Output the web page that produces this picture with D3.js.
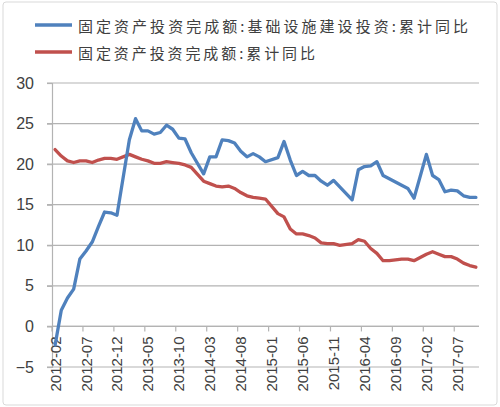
<!DOCTYPE html>
<head>
  <meta charset="utf-8">
  <script src="https://d3js.org/d3.v7.min.js"></script>
  <style>
    body { margin: 0; background: #fff; }
    svg { display: block; }
  </style>
</head>

<body>
  <svg width="500" height="407"></svg>
  <script>
    // categories (January has no separate release, kept as empty slots)
    var months = [
      "2012-02","2012-03","2012-04","2012-05","2012-06","2012-07","2012-08","2012-09","2012-10","2012-11","2012-12",
      "2013-01","2013-02","2013-03","2013-04","2013-05","2013-06","2013-07","2013-08","2013-09","2013-10","2013-11","2013-12",
      "2014-01","2014-02","2014-03","2014-04","2014-05","2014-06","2014-07","2014-08","2014-09","2014-10","2014-11","2014-12",
      "2015-01","2015-02","2015-03","2015-04","2015-05","2015-06","2015-07","2015-08","2015-09","2015-10","2015-11","2015-12",
      "2016-01","2016-02","2016-03","2016-04","2016-05","2016-06","2016-07","2016-08","2016-09","2016-10","2016-11","2016-12",
      "2017-01","2017-02","2017-03","2017-04","2017-05","2017-06","2017-07","2017-08","2017-09","2017-10"
    ];

    // series values
    var infraValues = [
      -2.3, 2.0, 3.5, 4.6, 8.3, 9.3, 10.4, 12.3, 14.1, 14.0, 13.7,
      null, 23.0, 25.6, 24.1, 24.1, 23.7, 23.9, 24.8, 24.3, 23.2, 23.1, 21.4,
      null, 18.8, 20.9, 20.9, 23.0, 22.9, 22.6, 21.6, 20.9, 21.3, 20.9, 20.3,
      null, 20.8, 22.8, 20.5, 18.6, 19.1, 18.6, 18.6, 17.9, 17.4, 18.0, 17.2,
      null, 15.6, 19.3, 19.7, 19.8, 20.3, 18.6, 18.2, 17.8, 17.4, 17.0, 15.8,
      null, 21.2, 18.6, 18.1, 16.6, 16.8, 16.7, 16.1, 15.9, 15.9
    ];
    var totalValues = [
      21.8, 21.0, 20.4, 20.2, 20.4, 20.4, 20.2, 20.5, 20.7, 20.7, 20.6,
      null, 21.2, 20.9, 20.6, 20.4, 20.1, 20.1, 20.3, 20.2, 20.1, 19.9, 19.6,
      null, 17.9, 17.6, 17.3, 17.2, 17.3, 17.0, 16.5, 16.1, 15.9, 15.8, 15.7,
      null, 13.9, 13.5, 12.0, 11.4, 11.4, 11.2, 10.9, 10.3, 10.2, 10.2, 10.0,
      null, 10.2, 10.7, 10.5, 9.6, 9.0, 8.1, 8.1, 8.2, 8.3, 8.3, 8.1,
      null, 8.9, 9.2, 8.9, 8.6, 8.6, 8.3, 7.8, 7.5, 7.3
    ];

    var seriesNames = ["固定资产投资完成额:基础设施建设投资:累计同比", "固定资产投资完成额:累计同比"];
    var seriesColors = ["#4f81bd", "#c0504d"];

    // tick labels
    var yTicks = [-5, 0, 5, 10, 15, 20, 25, 30];
    var xLabelEvery = 5;

    var svg = d3.select("svg");
    var plot = { left: 52, right: 479, top: 83, bottom: 367 };

    // frame
    svg.append("rect")
      .attr("x", 3).attr("y", 2)
      .attr("width", 494).attr("height", 403)
      .attr("rx", 3)
      .attr("fill", "#fff")
      .attr("stroke", "#d9d9d9");

    // scales
    var x = d3.scaleBand()
      .domain(months)
      .range([plot.left, plot.right])
      .padding(0);
    var y = d3.scaleLinear()
      .domain([-5, 30])
      .range([plot.bottom, plot.top]);
    var cx = function(m) { return x(m) + x.bandwidth() / 2; };

    // grid
    svg.append("g").selectAll("line")
      .data(yTicks)
      .enter().append("line")
      .attr("x1", plot.left - 5).attr("x2", plot.right)
      .attr("y1", function(d) { return y(d); })
      .attr("y2", function(d) { return y(d); })
      .attr("stroke", "#b3b3b3")
      .attr("stroke-width", 1.2);

    // y axis
    var yAxis = d3.axisLeft(y)
      .tickValues(yTicks)
      .tickSize(5)
      .tickPadding(13)
      .tickFormat(d3.format("d"));
    var gy = svg.append("g")
      .attr("transform", "translate(" + [plot.left, 0] + ")")
      .call(yAxis);
    gy.selectAll("path, line").attr("stroke", "#b3b3b3").attr("stroke-width", 1.2);
    gy.selectAll("text")
      .attr("font-family", "'Liberation Sans', Arial, sans-serif")
      .attr("font-size", 16)
      .attr("fill", "#404040");

    // x axis at zero, ticks on category boundaries
    var labelled = months.filter(function(m, i) { return i % xLabelEvery === 0; });
    var gx = svg.append("g");
    gx.append("line")
      .attr("x1", plot.left).attr("x2", plot.right)
      .attr("y1", y(0)).attr("y2", y(0))
      .attr("stroke", "#b3b3b3").attr("stroke-width", 1.2);
    gx.selectAll(".tk")
      .data(labelled)
      .enter().append("line")
      .attr("x1", function(d) { return x(d); })
      .attr("x2", function(d) { return x(d); })
      .attr("y1", y(0)).attr("y2", y(0) + 5)
      .attr("stroke", "#b3b3b3").attr("stroke-width", 1.2);
    gx.selectAll("text")
      .data(labelled)
      .enter().append("text")
      .attr("transform", function(d) { return "translate(" + [cx(d), y(0) + 10] + ") rotate(-90)"; })
      .attr("text-anchor", "end")
      .attr("dominant-baseline", "central")
      .attr("font-family", "'Liberation Sans', Arial, sans-serif")
      .attr("font-size", 15)
      .attr("fill", "#404040")
      .text(function(d) { return d; });

    // lines (January slots are skipped, points joined across them)
    var line = d3.line()
      .x(function(d) { return cx(d.m); })
      .y(function(d) { return y(d.v); });

    [totalValues, infraValues].forEach(function(vals, k) {
      var pts = months.map(function(m, i) { return { m: m, v: vals[i] }; })
        .filter(function(d) { return d.v != null; });
      svg.append("path")
        .datum(pts)
        .attr("fill", "none")
        .attr("stroke", seriesColors[1 - k])
        .attr("stroke-width", 3.3)
        .attr("stroke-linejoin", "round")
        .attr("stroke-linecap", "round")
        .attr("d", line);
    });

    // legend
    var legendLen = [390, 237];
    var lg = svg.append("g").selectAll("g")
      .data(seriesNames)
      .enter().append("g")
      .attr("transform", function(d, i) { return "translate(" + [35, 25 + i * 27] + ")"; });
    lg.append("line")
      .attr("x1", 0).attr("x2", 37)
      .attr("stroke", function(d, i) { return seriesColors[i]; })
      .attr("stroke-width", 3.5);
    lg.append("text")
      .attr("x", 43)
      .attr("dominant-baseline", "central")
      .attr("font-family", "'Noto Sans CJK SC', sans-serif")
      .attr("font-size", 15)
      .attr("fill", "#404040")
      .attr("textLength", function(d, i) { return legendLen[i]; })
      .attr("lengthAdjust", "spacing")
      .text(function(d) { return d; });
  </script>
</body>
</html>
